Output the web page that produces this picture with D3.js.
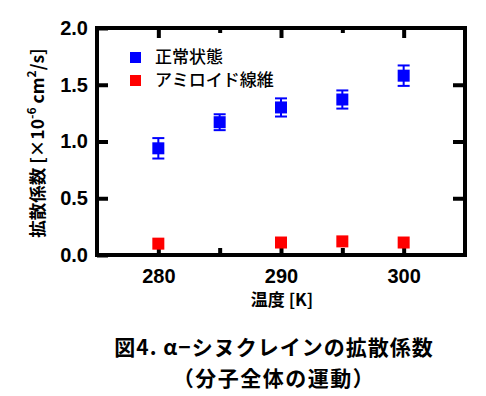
<!DOCTYPE html>
<html>
<head>
<meta charset="utf-8">
<script src="https://cdn.jsdelivr.net/npm/d3@7"></script>
<style>
  body { margin: 0; background: #fff; }
  svg text { font-family: "Liberation Sans", "Noto Sans CJK JP", sans-serif; }
  .jp { font-family: "Noto Sans CJK JP", sans-serif; }
</style>
</head>
<body>
<div id="chart"></div>
<script>
var svgWidth = 486;
var svgHeight = 396;

// data
var temps = [280, 285, 290, 295, 300];
var normalValues = [0.94, 1.17, 1.30, 1.37, 1.58];
var normalErrors = [0.09, 0.07, 0.08, 0.08, 0.09];
var fibrilValues = [0.10, null, 0.11, 0.12, 0.11];
var seriesNames = ["正常状態", "アミロイド線維"];
var seriesColors = ["#0000ff", "#ff0000"];
var yTicks = [0, 0.5, 1.0, 1.5, 2.0];
var xLabelTicks = [280, 290, 300];
var xAllTicks = [280, 285, 290, 295, 300];

var plot = { left: 97, right: 465, top: 28, bottom: 255 };

var svg = d3.select("#chart")
    .append("svg")
    .attr("width", svgWidth)
    .attr("height", svgHeight);

var x = d3.scaleLinear().domain([275, 305]).range([plot.left, plot.right]);
var y = d3.scaleLinear().domain([0, 2]).range([plot.bottom, plot.top]);

function styleAxis(g) {
    g.select(".domain").remove();
    g.selectAll(".tick line").attr("stroke", "#000").attr("stroke-width", 4);
    g.selectAll(".tick text")
        .attr("fill", "#000")
        .style("font-size", "20px")
        .style("font-weight", "bold")
        .style("font-family", "'Liberation Sans', Arial, sans-serif");
}

// left axis, ticks inward
svg.append("g")
    .attr("transform", `translate(${plot.left},0)`)
    .call(d3.axisLeft(y).tickValues(yTicks).tickFormat(d3.format(".1f")).tickSizeInner(-11).tickSizeOuter(0).tickPadding(9))
    .call(styleAxis);

// right axis, no labels
svg.append("g")
    .attr("transform", `translate(${plot.right},0)`)
    .call(d3.axisRight(y).tickValues([0.5, 1.0, 1.5]).tickFormat("").tickSizeInner(-12).tickSizeOuter(0))
    .call(styleAxis);

// bottom axis: short inward ticks + labels
svg.append("g")
    .attr("transform", `translate(0,${plot.bottom})`)
    .call(d3.axisBottom(x).tickValues(xAllTicks).tickFormat(d => xLabelTicks.indexOf(d) >= 0 ? d : "").tickSizeInner(-7).tickSizeOuter(0).tickPadding(14))
    .call(styleAxis);

// top axis: long ticks at labelled values, short at others
var topAxis = svg.append("g")
    .attr("transform", `translate(0,${plot.top})`)
    .call(d3.axisTop(x).tickValues(xAllTicks).tickFormat("").tickSizeOuter(0))
    .call(styleAxis);
topAxis.selectAll(".tick line")
    .attr("y2", d => xLabelTicks.indexOf(d) >= 0 ? 10 : 5);

// frame
svg.append("rect")
    .attr("x", plot.left)
    .attr("y", plot.top)
    .attr("width", plot.right - plot.left)
    .attr("height", plot.bottom - plot.top)
    .attr("fill", "none")
    .attr("stroke", "#000")
    .attr("stroke-width", 4);

// error bars for normal state
var normalData = temps.map((t, i) => ({ t: t, v: normalValues[i], e: normalErrors[i] }));
var eb = svg.append("g").attr("stroke", seriesColors[0]).attr("stroke-width", 2);
normalData.forEach(function (d) {
    eb.append("line").attr("x1", x(d.t)).attr("x2", x(d.t)).attr("y1", y(d.v - d.e)).attr("y2", y(d.v + d.e));
    eb.append("line").attr("x1", x(d.t) - 6).attr("x2", x(d.t) + 6).attr("y1", y(d.v - d.e)).attr("y2", y(d.v - d.e));
    eb.append("line").attr("x1", x(d.t) - 6).attr("x2", x(d.t) + 6).attr("y1", y(d.v + d.e)).attr("y2", y(d.v + d.e));
});

var sq = 12;
svg.append("g").selectAll("rect")
    .data(normalData)
    .enter()
    .append("rect")
    .attr("x", d => x(d.t) - sq / 2)
    .attr("y", d => y(d.v) - sq / 2)
    .attr("width", sq)
    .attr("height", sq)
    .attr("fill", seriesColors[0]);

var fibrilData = temps.map((t, i) => ({ t: t, v: fibrilValues[i] })).filter(d => d.v !== null);
svg.append("g").selectAll("rect")
    .data(fibrilData)
    .enter()
    .append("rect")
    .attr("x", d => x(d.t) - sq / 2)
    .attr("y", d => y(d.v) - sq / 2)
    .attr("width", sq)
    .attr("height", sq)
    .attr("fill", seriesColors[1]);

// legend
var legend = svg.append("g");
seriesNames.forEach(function (name, i) {
    legend.append("rect")
        .attr("x", 130)
        .attr("y", 52 + i * 23)
        .attr("width", 11)
        .attr("height", 11)
        .attr("fill", seriesColors[i]);
    legend.append("text")
        .attr("class", "jp")
        .attr("x", 155)
        .attr("y", 63 + i * 23)
        .style("font-size", "17px")
        .style("font-weight", "500")
        .text(name);
});

// axis titles
svg.append("text")
    .attr("class", "jp")
    .attr("x", 282)
    .attr("y", 306)
    .attr("text-anchor", "middle")
    .style("font-size", "17px")
    .style("font-weight", "bold")
    .text("温度 [K]");

var yt = svg.append("text")
    .attr("class", "jp")
    .attr("transform", `translate(44,143) rotate(-90)`)
    .attr("text-anchor", "middle")
    .style("font-size", "17.5px")
    .style("font-weight", "bold");
yt.append("tspan").text("拡散係数 [×10");
yt.append("tspan").attr("dy", -8).style("font-size", "12px").text("-6");
yt.append("tspan").attr("dy", 8).text(" cm");
yt.append("tspan").attr("dy", -8).style("font-size", "12px").text("2");
yt.append("tspan").attr("dy", 8).text("/s]");

// caption
svg.append("text")
    .attr("class", "jp")
    .attr("x", 274)
    .attr("y", 355)
    .attr("text-anchor", "middle")
    .style("font-size", "21px")
    .style("font-weight", "bold")
    .style("letter-spacing", "1px")
    .text("図4. α−シヌクレインの拡散係数");

svg.append("text")
    .attr("class", "jp")
    .attr("x", 274)
    .attr("y", 386)
    .attr("text-anchor", "middle")
    .style("font-size", "21px")
    .style("font-weight", "bold")
    .style("letter-spacing", "1.5px")
    .text("（分子全体の運動）");
</script>
</body>
</html>
